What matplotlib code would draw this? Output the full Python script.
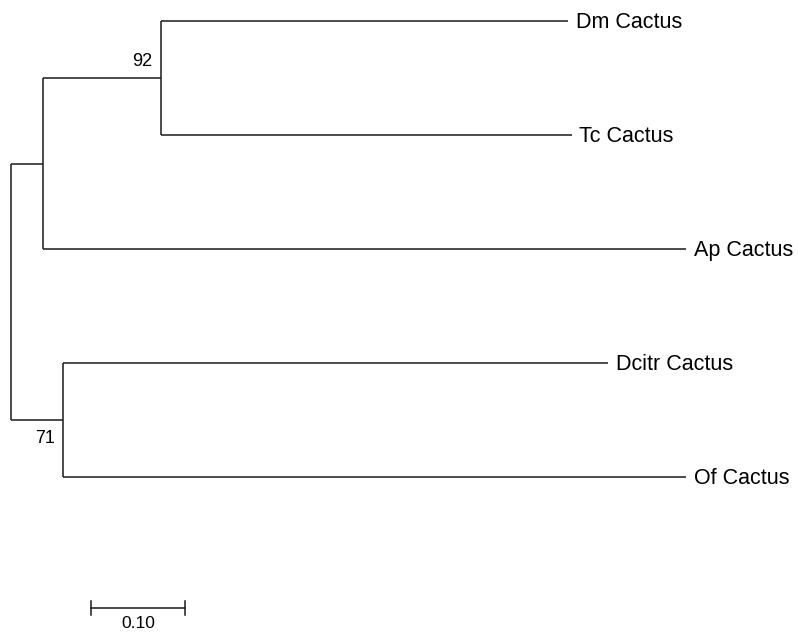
import matplotlib.pyplot as plt

# Tree topology: each node with its parent and branch length (substitutions/site)
nodes = ["root", "n1", "n2", "n3", "Dm Cactus", "Tc Cactus", "Ap Cactus", "Dcitr Cactus", "Of Cactus"]
parents = [None, "root", "n1", "root", "n2", "n2", "n1", "n3", "n3"]
branch_lengths = [0.0, 0.034, 0.1255, 0.0553, 0.433, 0.437, 0.684, 0.580, 0.663]
leaf_order = ["Dm Cactus", "Tc Cactus", "Ap Cactus", "Dcitr Cactus", "Of Cactus"]
bootstrap_nodes = ["n2", "n3"]
bootstrap_values = [92, 71]
scale_length = 0.10

plt.rcParams['font.family'] = ['Liberation Sans', 'DejaVu Sans']

parent_of = dict(zip(nodes, parents))
length_of = dict(zip(nodes, branch_lengths))
children = {n: [c for c, p in zip(nodes, parents) if p == n] for n in nodes}

# x = distance from root, y = leaf row (internal nodes centred on children)
xpos = {}
for n in nodes:
    d, cur = 0.0, n
    while cur is not None:
        d += length_of[cur]
        cur = parent_of[cur]
    xpos[n] = d

ypos = {leaf: i for i, leaf in enumerate(leaf_order)}
def get_y(n):
    if n not in ypos:
        ys = [get_y(c) for c in children[n]]
        ypos[n] = (min(ys) + max(ys)) / 2
    return ypos[n]
for n in nodes:
    get_y(n)

fig = plt.figure(figsize=(7.98, 6.34), dpi=100)
ax = fig.add_axes([0, 0, 1, 1])
ax.set_xlim(-11 / 940, 787 / 940)
ax.set_ylim((634 - 21) / 114, -21 / 114)
ax.axis('off')

lc = '#1a1a1a'
lw = 1.1
for n in nodes:
    p = parent_of[n]
    if p is not None:
        ax.plot([xpos[p], xpos[n]], [ypos[n], ypos[n]], color=lc, lw=lw, solid_capstyle='butt')
    if children[n]:
        ys = [ypos[c] for c in children[n]]
        ax.plot([xpos[n], xpos[n]], [min(ys), max(ys)], color=lc, lw=lw, solid_capstyle='butt')

for leaf in leaf_order:
    ax.annotate(leaf, (xpos[leaf], ypos[leaf]), xytext=(5.5, -1), textcoords='offset points',
                ha='left', va='center', fontsize=15.5, color='black')

# bootstrap support: 92 above its stem, 71 below its stem
for n, v in zip(bootstrap_nodes, bootstrap_values):
    below = ypos[n] > ypos["root"]
    ax.annotate(str(v), (xpos[n], ypos[n]),
                xytext=(-6, -7 if below else 6), textcoords='offset points',
                ha='right', va='top' if below else 'bottom', fontsize=13, color='black')

# scale bar
sx0 = 80 / 940
sy = (608 - 21) / 114
ax.plot([sx0, sx0 + scale_length], [sy, sy], color=lc, lw=lw)
for sx in (sx0, sx0 + scale_length):
    ax.plot([sx, sx], [sy - 0.06, sy + 0.06], color=lc, lw=lw)
ax.annotate(f"{scale_length:.2f}", (sx0 + scale_length / 2, sy), xytext=(0, -6),
            textcoords='offset points', ha='center', va='top', fontsize=12.5, color='black')

fig.savefig('out.png', dpi=100)
